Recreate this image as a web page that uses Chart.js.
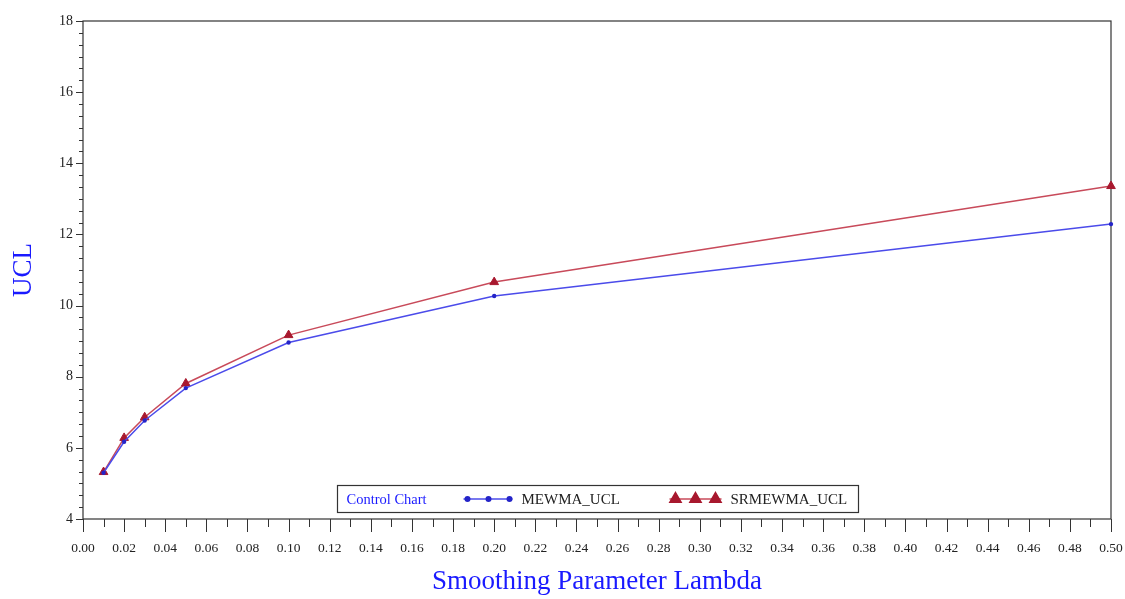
<!DOCTYPE html>
<html>
<head>
<meta charset="utf-8">
<script src="https://cdn.jsdelivr.net/npm/chart.js@4.4.1/dist/chart.umd.min.js"></script>
<style>
  html, body { margin: 0; padding: 0; background: #ffffff; }
  canvas { display: block; }
</style>
</head>
<body>
<canvas id="uclChart" width="1125" height="599"></canvas>
<script>
// lambda values on the x axis
const lambda = [0.01, 0.02, 0.03, 0.05, 0.10, 0.20, 0.50];
// upper control limits for both charts
const mewmaUCL = [5.30, 6.17, 6.77, 7.68, 8.96, 10.27, 12.29];
const srmewmaUCL = [5.32, 6.28, 6.86, 7.81, 9.17, 10.66, 13.36];
// legend texts
const legendTitle = "Control Chart";
const seriesNames = ["MEWMA_UCL", "SRMEWMA_UCL"];

const serif = "'Liberation Serif', 'DejaVu Serif', serif";
const blueLine = "#4b4bea";
const blueMark = "#2424c8";
const redLine = "#c84a5a";
const redMark = "#a8182e";

// build points from the arrays
function toPoints(xs, ys) {
  return xs.map((x, i) => ({ x: x, y: ys[i] }));
}

// Draws the frame and the major / minor tick marks on both axes
const framePlugin = {
  id: "frame",
  beforeDatasetsDraw(chart) {
    const ctx = chart.ctx;
    const ca = chart.chartArea;
    const xs = chart.scales.x;
    const ys = chart.scales.y;
    ctx.save();
    ctx.strokeStyle = "#333333";
    ctx.lineWidth = 1.2;
    ctx.strokeRect(ca.left, ca.top, ca.right - ca.left, ca.bottom - ca.top);
    ctx.lineWidth = 1;
    ctx.beginPath();
    // x ticks every 0.01, long ones every 0.02
    for (let i = 0; i <= 50; i++) {
      const px = Math.round(xs.getPixelForValue(i / 100)) + 0.5;
      const len = i % 2 === 0 ? 13 : 8;
      ctx.moveTo(px, ca.bottom);
      ctx.lineTo(px, ca.bottom + len);
    }
    // y ticks every 1/3, long ones every 2
    for (let j = 0; j <= 42; j++) {
      const py = Math.round(ys.getPixelForValue(4 + j / 3)) + 0.5;
      const len = j % 6 === 0 ? 7 : 4;
      ctx.moveTo(ca.left, py);
      ctx.lineTo(ca.left - len, py);
    }
    ctx.stroke();
    ctx.restore();
  },
  afterDraw(chart) {
    // legend box at the bottom of the plot area
    const ctx = chart.ctx;
    const ca = chart.chartArea;
    const w = 521;
    const h = 27;
    const left = Math.round((ca.left + ca.right) / 2 - w / 2) + 0.5;
    const top = Math.round(ca.bottom - 7 - h) + 0.5;
    const cy = top + h / 2;
    ctx.save();
    ctx.fillStyle = "#ffffff";
    ctx.fillRect(left, top, w, h);
    ctx.strokeStyle = "#333333";
    ctx.lineWidth = 1.2;
    ctx.strokeRect(left, top, w, h);

    ctx.textBaseline = "middle";
    ctx.textAlign = "left";
    ctx.font = "14.5px " + serif;
    ctx.fillStyle = "#1a1aff";
    ctx.fillText(legendTitle, left + 9, cy + 1);

    // MEWMA sample
    ctx.strokeStyle = blueLine;
    ctx.lineWidth = 1.5;
    ctx.beginPath();
    ctx.moveTo(left + 126, cy);
    ctx.lineTo(left + 175, cy);
    ctx.stroke();
    ctx.fillStyle = blueMark;
    ctx.beginPath();
    [130, 151, 172].forEach((dx) => {
      ctx.moveTo(left + dx + 3, cy);
      ctx.arc(left + dx, cy, 3, 0, Math.PI * 2);
    });
    ctx.fill();
    ctx.fillStyle = "#222222";
    ctx.font = "15px " + serif;
    ctx.fillText(seriesNames[0], left + 184, cy + 1);

    // SRMEWMA sample
    ctx.strokeStyle = redLine;
    ctx.beginPath();
    ctx.moveTo(left + 332, cy);
    ctx.lineTo(left + 384, cy);
    ctx.stroke();
    ctx.fillStyle = redMark;
    ctx.strokeStyle = redMark;
    [338, 358, 378].forEach((dx) => {
      Chart.helpers.drawPoint(ctx, { pointStyle: "triangle", radius: 6.5, rotation: 0, borderWidth: 1 }, left + dx, cy);
    });
    ctx.fillStyle = "#222222";
    ctx.fillText(seriesNames[1], left + 393, cy + 1);
    ctx.restore();
  },
};

new Chart("uclChart", {
  type: "line",
  data: {
    datasets: [
      {
        label: seriesNames[0],
        data: toPoints(lambda, mewmaUCL),
        borderColor: blueLine,
        borderWidth: 1.5,
        pointStyle: "circle",
        pointRadius: 2.2,
        pointBackgroundColor: blueMark,
        pointBorderColor: blueMark,
        pointBorderWidth: 0,
        clip: false,
        tension: 0,
      },
      {
        label: seriesNames[1],
        data: toPoints(lambda, srmewmaUCL),
        borderColor: redLine,
        borderWidth: 1.5,
        pointStyle: "triangle",
        pointRadius: 5,
        pointBackgroundColor: redMark,
        pointBorderColor: redMark,
        pointBorderWidth: 1,
        clip: false,
        tension: 0,
      },
    ],
  },
  options: {
    responsive: false,
    animation: false,
    devicePixelRatio: 1,
    layout: { padding: { top: 21, right: 14, left: 0, bottom: 0 } },
    plugins: {
      legend: { display: false },
      tooltip: { enabled: false },
    },
    scales: {
      x: {
        type: "linear",
        min: 0,
        max: 0.5,
        afterFit: (s) => { s.height = 80; s.paddingLeft = 0; s.paddingRight = 0; },
        grid: { display: true, drawOnChartArea: false, drawTicks: false },
        border: { display: false },
        ticks: {
          stepSize: 0.02,
          autoSkip: false,
          maxRotation: 0,
          padding: 21,
          color: "#222222",
          font: { family: serif, size: 13.5 },
          callback: (v) => v.toFixed(2),
        },
        title: {
          display: true,
          text: "Smoothing Parameter Lambda",
          color: "#1a1aff",
          font: { family: serif, size: 27 },
          padding: { top: 0, bottom: 1 },
        },
      },
      y: {
        type: "linear",
        min: 4,
        max: 18,
        afterFit: (s) => { s.width = 83; s.paddingTop = 0; s.paddingBottom = 0; },
        grid: { display: true, drawOnChartArea: false, drawTicks: false },
        border: { display: false },
        ticks: {
          stepSize: 2,
          padding: 10,
          color: "#222222",
          font: { family: serif, size: 14 },
        },
        title: {
          display: true,
          text: "UCL",
          color: "#1a1aff",
          font: { family: serif, size: 27 },
          padding: { top: 8, bottom: 0 },
        },
      },
    },
  },
  plugins: [framePlugin],
});
</script>
</body>
</html>
